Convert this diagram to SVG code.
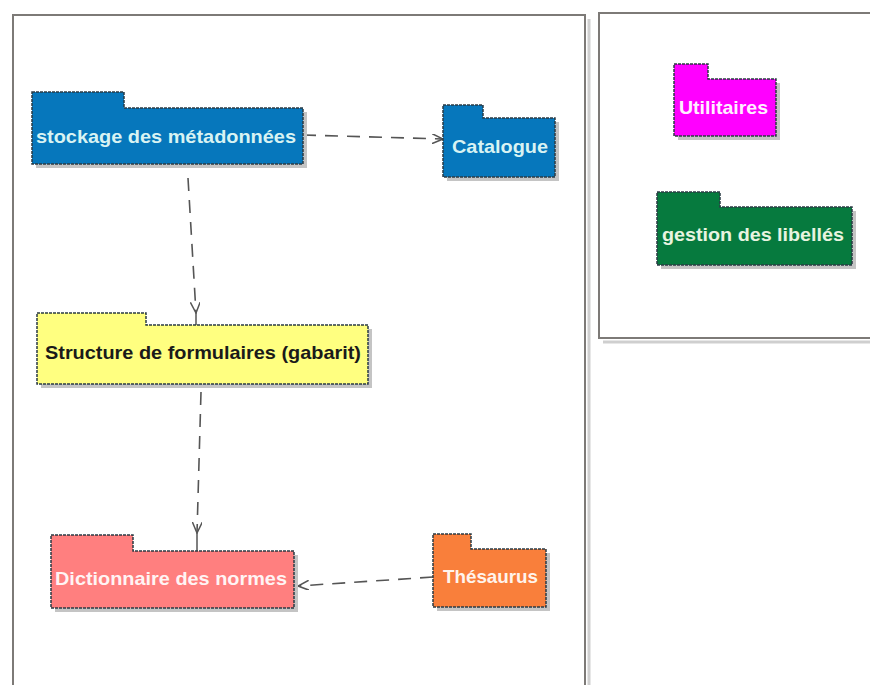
<svg xmlns="http://www.w3.org/2000/svg" width="870" height="685" viewBox="0 0 870 685">
<defs>
<style>
.frame{fill:#fff;stroke:#7d7a77;stroke-width:2}
.fshadow{fill:none;stroke:#cfcfcf;stroke-width:3}
.shadow{fill:#c4c4c4}
.pkg{stroke:#2b3b44;stroke-width:1.5;stroke-dasharray:3 1}
.lbl{font-family:"Liberation Sans",Arial,sans-serif;font-weight:bold;font-size:18.5px;text-anchor:middle}
.dep{fill:none;stroke:#555;stroke-width:1.6;stroke-dasharray:13 9}
</style>
<marker id="open" viewBox="0 0 12 10" refX="11" refY="5" markerWidth="12" markerHeight="10" markerUnits="userSpaceOnUse" orient="auto">
<path d="M0,0 L11,5 L0,10" fill="none" stroke="#555" stroke-width="1.5"/>
</marker>
</defs>
<rect width="870" height="685" fill="#fff"/>
<g id="frames">
<path class="fshadow" d="M589,19 V685"/>
<rect class="frame" x="13" y="15" width="572" height="690"/>
<path class="fshadow" d="M603,342 H870"/>
<rect class="frame" x="599" y="13" width="290" height="325"/>
</g>
<g id="connectors">
<path class="dep" d="M303,135 L443,139" marker-end="url(#open)"/>
<path class="dep" d="M188,178 L196,313" marker-end="url(#open)"/>
<path class="dep" d="M201,392 L197,533" marker-end="url(#open)"/>
<path class="dep" d="M433,577 L298,586" marker-end="url(#open)"/>
<path d="M196,313 V325 M197,533 V551" stroke="#555" stroke-width="1.5"/>
</g>
<g id="stockage">
<path class="shadow" d="M36,112 H307 V168 H36 Z"/>
<path class="pkg" fill="#0677bc" d="M32,92 H124 V108 H303 V164 H32 Z"/>
<text class="lbl" x="166" y="143" fill="#d8f3f3" textLength="260" lengthAdjust="spacingAndGlyphs">stockage des métadonnées</text>
</g>
<g id="catalogue">
<path class="shadow" d="M447,122 H559 V181 H447 Z"/>
<path class="pkg" fill="#0677bc" d="M443,105 H483 V118 H555 V177 H443 Z"/>
<text class="lbl" x="500" y="153" fill="#d8f3f3" textLength="96" lengthAdjust="spacingAndGlyphs">Catalogue</text>
</g>
<g id="utilitaires">
<path class="shadow" d="M678,83 H780 V140 H678 Z"/>
<path class="pkg" fill="#ff00ff" d="M674,64 H708 V79 H776 V136 H674 Z"/>
<text class="lbl" x="723.5" y="114" fill="#fff0ff" textLength="89" lengthAdjust="spacingAndGlyphs">Utilitaires</text>
</g>
<g id="libelles">
<path class="shadow" d="M661,211 H856 V269 H661 Z"/>
<path class="pkg" fill="#067a3e" d="M657,192 H720 V207 H852 V265 H657 Z"/>
<text class="lbl" x="753" y="241" fill="#e8f4e0" textLength="182" lengthAdjust="spacingAndGlyphs">gestion des libellés</text>
</g>
<g id="structure">
<path class="shadow" d="M41,329 H372 V388 H41 Z"/>
<path class="pkg" fill="#ffff80" d="M37,313 H146 V325 H368 V384 H37 Z"/>
<text class="lbl" x="203" y="359" fill="#1a1a1a" textLength="316" lengthAdjust="spacingAndGlyphs">Structure de formulaires (gabarit)</text>
</g>
<g id="dictionnaire">
<path class="shadow" d="M55,555 H298 V612 H55 Z"/>
<path class="pkg" fill="#ff7f7f" d="M51,535 H133 V551 H294 V608 H51 Z"/>
<text class="lbl" x="171" y="585" fill="#fff4f4" textLength="232" lengthAdjust="spacingAndGlyphs">Dictionnaire des normes</text>
</g>
<g id="thesaurus">
<path class="shadow" d="M437,553 H550 V611 H437 Z"/>
<path class="pkg" fill="#f97f3b" d="M433,534 H471 V549 H546 V607 H433 Z"/>
<text class="lbl" x="490.5" y="583" fill="#fff4ec" textLength="95" lengthAdjust="spacingAndGlyphs">Thésaurus</text>
</g>
</svg>
